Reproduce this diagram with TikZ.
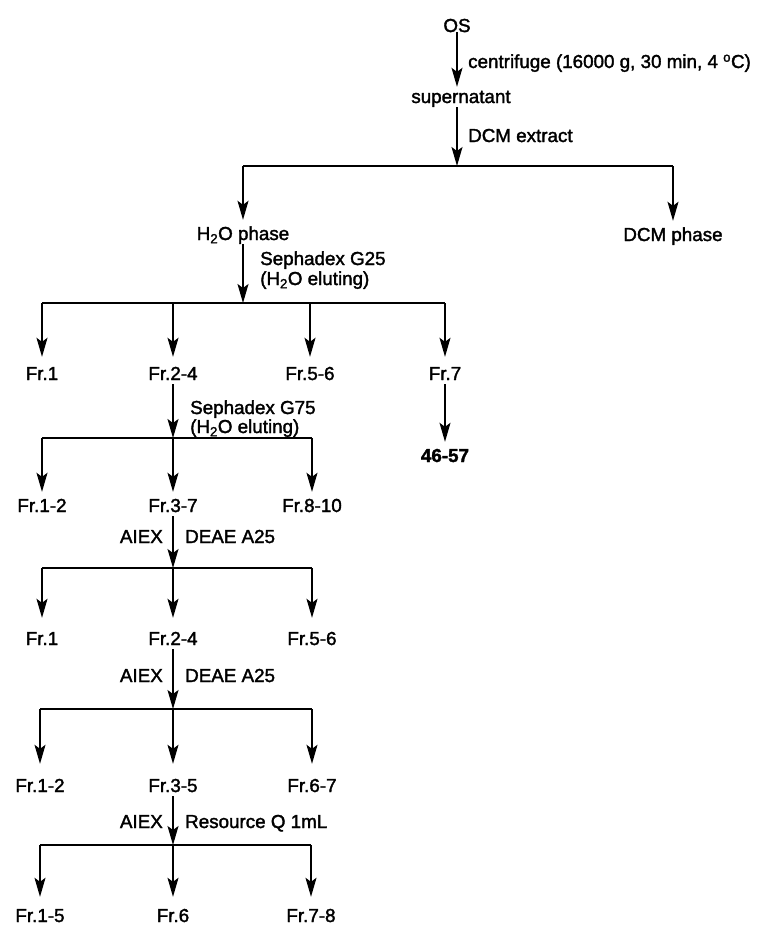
\documentclass[tikz,border=0pt]{standalone}
\usepackage{fontspec}
\setmainfont{Liberation Sans}[FakeBold=1.8]
\usetikzlibrary{arrows.meta}

\begin{document}
\begin{tikzpicture}[x=1pt,y=-1pt]
  \tikzstyle{every node}=[inner sep=0pt,anchor=base,text height=13pt,text depth=4pt,font=\fontsize{18.8}{20}\selectfont]
  \tikzstyle{flow}=[-{Stealth[length=19pt,width=11pt,inset=4pt]},line width=1.3pt]
  \tikzstyle{bus}=[line width=2.2pt]
  \tikzstyle{cond}=[anchor=base west]
  \tikzstyle{resin}=[anchor=base east]
  \useasboundingbox (0,0) rectangle (763,926);
  % extraction
  \node (os) at (457,32) {OS};
  \node (sup) at (461,103) {supernatant};
  \node[cond] (cfg) at (468,68) {centrifuge (16000 g, 30 min, 4 \textsuperscript{o}C)};
  \node[cond] (dcmx) at (468,142) {DCM extract};
  \node (h2o) at (243,240) {H\textsubscript{2}O phase};
  \node (dcm) at (673,241) {DCM phase};
  \coordinate (b1) at (457,166);
  \coordinate (b1l) at (243,166);
  \coordinate (b1r) at (673,166);
  \draw[flow,shorten <=-4pt,shorten >=3pt] (os.south) -- (os.south |- sup.north);
  \draw[flow] (sup.south -| b1) -- (b1);
  \draw[bus] (b1l) -- (b1r);
  \draw[flow,shorten >=7pt] (b1l) -- (h2o);
  \draw[flow,shorten >=7pt] (b1r) -- (dcm);
  % Sephadex G25
  \node[cond] (g25) at (260,265) {Sephadex G25};
  \node[cond] (g25e) at (260,285) {(H\textsubscript{2}O eluting)};
  \node (a1) at (42,380) {Fr.1};
  \node (a2) at (173,380) {Fr.2-4};
  \node (a3) at (310,380) {Fr.5-6};
  \node (a4) at (445,380) {Fr.7};
  \node (cpd) at (445,462) {\textbf{46-57}};
  \coordinate (b2) at (243,303);
  \draw[flow] (h2o.south) -- (b2);
  \draw[bus] (b2 -| a1) -- (b2 -| a4);
  \foreach \n in {a1,a2,a3,a4}
    \draw[flow,shorten >=10pt] (b2 -| \n) -- (\n);
  \draw[flow,shorten >=7pt] (a4.south) -- (cpd);
  % Sephadex G75
  \node[cond] (g75) at (190,414) {Sephadex G75};
  \node[cond] (g75e) at (190,433) {(H\textsubscript{2}O eluting)};
  \node (c1) at (42,512) {Fr.1-2};
  \node (c2) at (173,512) {Fr.3-7};
  \node (c3) at (312,512) {Fr.8-10};
  \coordinate (b3) at (173,438);
  \draw[flow] (a2.south) -- (b3);
  \draw[bus] (b3 -| c1) -- (b3 -| c3);
  \foreach \n in {c1,c2,c3}
    \draw[flow,shorten >=7pt] (b3 -| \n) -- (\n);
  % AIEX, DEAE A25
  \node[resin] (ax1) at (163,543) {AIEX};
  \node[cond] (de1) at (185,543) {DEAE A25};
  \node (d1) at (42,645) {Fr.1};
  \node (d2) at (173,645) {Fr.2-4};
  \node (d3) at (312,645) {Fr.5-6};
  \coordinate (b4) at (173,568);
  \draw[flow] (c2.south) -- (b4);
  \draw[bus] (b4 -| d1) -- (b4 -| d3);
  \foreach \n in {d1,d2,d3}
    \draw[flow,shorten >=14pt] (b4 -| \n) -- (\n);
  % AIEX, DEAE A25
  \node[resin] (ax2) at (163,682) {AIEX};
  \node[cond] (de2) at (185,682) {DEAE A25};
  \node (e1) at (40,792) {Fr.1-2};
  \node (e2) at (173,792) {Fr.3-5};
  \node (e3) at (312,792) {Fr.6-7};
  \coordinate (b5) at (173,709);
  \draw[flow] (d2.south) -- (b5);
  \draw[bus] (b5 -| e1) -- (b5 -| e3);
  \foreach \n in {e1,e2,e3}
    \draw[flow,shorten >=15pt] (b5 -| \n) -- (\n);
  % AIEX, Resource Q
  \node[resin] (ax3) at (163,828) {AIEX};
  \node[cond] (rq) at (185,828) {Resource Q 1mL};
  \node (f1) at (40,922) {Fr.1-5};
  \node (f2) at (173,922) {Fr.6};
  \node (f3) at (311,922) {Fr.7-8};
  \coordinate (b6) at (173,845);
  \draw[flow] (e2.south) -- (b6);
  \draw[bus] (b6 -| f1) -- (b6 -| f3);
  \foreach \n in {f1,f2,f3}
    \draw[flow,shorten >=12pt] (b6 -| \n) -- (\n);
\end{tikzpicture}
\end{document}
